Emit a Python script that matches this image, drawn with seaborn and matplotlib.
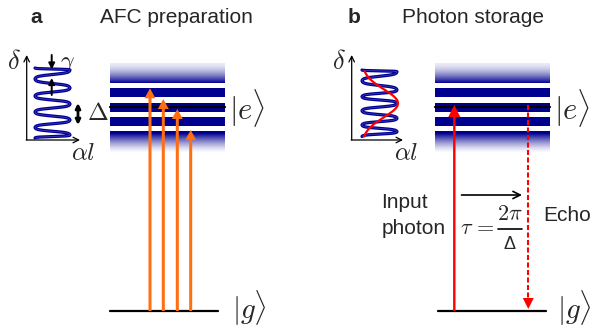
import numpy as np
import pandas as pd
import matplotlib
matplotlib.use("Agg")
import matplotlib.pyplot as plt
from matplotlib.colors import LinearSegmentedColormap
import seaborn as sns

sns.set_theme(style="white")
plt.rcParams["font.family"] = ["Liberation Sans", "DejaVu Sans"]
plt.rcParams["mathtext.fontset"] = "cm"

# ---------------- diagram content ----------------
panel_letters = ["a", "b"]
panel_titles = ["AFC preparation", "Photon storage"]
side_labels = ["Input\nphoton", "Echo"]

# excited-state manifold: solid stripes and faded edges (rows, px)
stripes = [(88.3, 96.7), (102.7, 111.7), (116.7, 125.7)]
fade_top = (63.0, 83.0)
fade_bottom = (131.7, 153.0)
level_e = 107.3
level_g = 311.0

# horizontal extent of each manifold and ground line
block_x = [(110.0, 225.0), (435.0, 550.0)]
ground_x = [(110.0, 218.0), (438.0, 546.0)]

# preparation pulses (panel a): column and arrival row
prep_x = [150.0, 163.3, 177.3, 190.7]
prep_tip = [88.3, 99.0, 109.0, 130.0]

# storage (panel b): absorbed photon and echo columns
input_x = 454.3
echo_x = 528.3

# absorption comb teeth (delta axis rows) and comb span in alpha*l
comb_peaks_a = [70.0, 88.0, 104.0, 120.0, 135.0]
comb_peaks_b = [71.7, 90.0, 103.3, 118.3, 131.7]
comb_span_a = (35.0, 70.0)
comb_span_b = (362.0, 397.0)
comb_ends_a = (68.0, 138.0)
comb_ends_b = (70.0, 136.5)

# photon spectrum overlaid on the comb (panel b)
photon_center = 103.3
photon_sigma = 14.0
photon_height = 36.0

NAVY = "#000090"
ORANGE = "#FF6E10"
RED = "#FF0000"


def comb_curve(peaks, span, ends, n=40, sharp=5.0):
    """Rounded comb teeth: flat sweeps across, tight turns at both sides."""
    left, right = span
    turns = [(left, ends[0])]
    for i, p in enumerate(peaks):
        turns.append((right, p))
        if i < len(peaks) - 1:
            turns.append((left, 0.5 * (p + peaks[i + 1])))
    turns.append((left, ends[1]))
    xs, ys = [], []
    norm = np.tanh(sharp / 2)
    for (xa, ya), (xb, yb) in zip(turns[:-1], turns[1:]):
        u = np.linspace(0, 1, n)
        s = 0.5 + 0.5 * np.tanh(sharp * (u - 0.5)) / norm
        xs.extend(xa + (xb - xa) * s)
        ys.extend(ya + (yb - ya) * u)
    return pd.DataFrame({"al": xs, "delta": ys})


fig = plt.figure(figsize=(5.93, 3.28), dpi=100)
ax = fig.add_axes([0, 0, 1, 1])

# ---- titles ----
ax.text(36, 22.7, panel_letters[0], fontsize=15, fontweight="bold",
        ha="center", va="baseline")
ax.text(100, 22.7, panel_titles[0], fontsize=15, ha="left", va="baseline")
ax.text(354, 22.7, panel_letters[1], fontsize=15, fontweight="bold",
        ha="center", va="baseline")
ax.text(401.5, 22.7, panel_titles[1], fontsize=15, ha="left", va="baseline")

# ---- excited-state manifolds ----
fade = LinearSegmentedColormap.from_list("fade", ["white", NAVY])
t = np.linspace(0, 1, 128)[:, None]
for x0, x1 in block_x:
    ax.imshow(0.08 + 0.92 * t ** 1.6, cmap=fade, vmin=0, vmax=1,
              extent=(x0, x1, fade_top[1], fade_top[0]), origin="upper",
              aspect="auto", interpolation="bilinear", zorder=1)
    ax.imshow(np.clip(1.15 * (1 - t) ** 1.4, 0, 1), cmap=fade, vmin=0, vmax=1,
              extent=(x0, x1, fade_bottom[1], fade_bottom[0]), origin="upper",
              aspect="auto", interpolation="bilinear", zorder=1)
    for y0, y1 in stripes:
        ax.fill_between([x0, x1], y0, y1, color=NAVY, lw=0, zorder=1)
    ax.plot([x0, x1], [level_e, level_e], color="black", lw=1.6, zorder=2)

# ground levels
for x0, x1 in ground_x:
    ax.plot([x0, x1], [level_g, level_g], color="black", lw=1.6, zorder=2)

# state labels
ax.text(229, 108, r"$|e\rangle$", fontsize=22, ha="left", va="center")
ax.text(554, 108, r"$|e\rangle$", fontsize=22, ha="left", va="center")
ax.text(232, 308, r"$|g\rangle$", fontsize=21, ha="left", va="center")
ax.text(557, 308, r"$|g\rangle$", fontsize=21, ha="left", va="center")

# ---- panel a: preparation pulses ----
for x, tip in zip(prep_x, prep_tip):
    ax.arrow(x, level_g, 0, tip - level_g, width=3.0, head_width=11,
             head_length=10, length_includes_head=True, fc=ORANGE, ec="none",
             zorder=3)

# ---- panel b: input photon and echo ----
ax.arrow(input_x, level_g, 0, 105 - level_g, width=2.4, head_width=12,
         head_length=12, length_includes_head=True, fc=RED, ec="none", zorder=3)
ax.plot([echo_x, echo_x], [105, 299], color=RED, lw=1.5,
        linestyle=(0, (2.4, 1.2)), zorder=3)
ax.arrow(echo_x, 298, 0, 11, width=0.01, head_width=11, head_length=11,
         length_includes_head=True, fc=RED, ec="none", zorder=3)

ax.text(381.5, 208.3, "Input", fontsize=15, ha="left", va="baseline")
ax.text(381.5, 234, "photon", fontsize=15, ha="left", va="baseline")
ax.text(543.3, 220.7, side_labels[1], fontsize=15, ha="left", va="baseline")

# storage time
ax.annotate("", xy=(522, 195), xytext=(461.5, 195),
            arrowprops=dict(arrowstyle="->", lw=1.2, color="black",
                            mutation_scale=13, shrinkA=0, shrinkB=0))
ax.text(460.5, 234, r"$\tau\,=$", fontsize=16, ha="left", va="baseline")
ax.text(510, 220, r"$2\pi$", fontsize=16, ha="center", va="baseline")
ax.plot([498, 522], [228.5, 228.5], color="black", lw=1.2)
ax.text(510, 249.3, "\u0394", fontsize=13, ha="center", va="baseline")

# ---- absorption-profile insets ----
for ox, ox_end, dx, ax_lab in [(26.7, 80.0, 13.5, 83.0),
                               (351.7, 403.0, 338.5, 406.0)]:
    ax.annotate("", xy=(ox, 55), xytext=(ox, 140),
                arrowprops=dict(arrowstyle="->", lw=0.9, color="black",
                                mutation_scale=10, shrinkA=0, shrinkB=0))
    ax.annotate("", xy=(ox_end, 140), xytext=(ox - 0.5, 140),
                arrowprops=dict(arrowstyle="->", lw=0.9, color="black",
                                mutation_scale=10, shrinkA=0, shrinkB=0))
    ax.text(dx, 62, r"$\delta$", fontsize=19, ha="center", va="center")
    ax.text(ax_lab, 153.5, r"$\alpha l$", fontsize=18, ha="center",
            va="center")

for peaks, span, ends in [(comb_peaks_a, comb_span_a, comb_ends_a),
                          (comb_peaks_b, comb_span_b, comb_ends_b)]:
    comb = comb_curve(peaks, span, ends)
    sns.lineplot(data=comb, x="al", y="delta", sort=False, estimator=None,
                 orient="y", color=NAVY, lw=2.3, ax=ax, legend=False,
                 zorder=4)
    sns.lineplot(data=comb, x="al", y="delta", sort=False, estimator=None,
                 orient="y", color="#3535b8", lw=0.6, ax=ax, legend=False,
                 zorder=4)

rows = np.linspace(comb_ends_b[0] + 1.5, comb_ends_b[1], 200)
photon = pd.DataFrame({
    "delta": rows,
    "al": comb_span_b[0] + photon_height
    * np.exp(-(rows - photon_center) ** 2 / (2 * photon_sigma ** 2)),
})
sns.lineplot(data=photon, x="al", y="delta", sort=False, estimator=None,
             orient="y", color=RED, lw=1.6, ax=ax, legend=False, zorder=5)

# linewidth and tooth spacing markers (panel a)
ax.annotate("", xy=(51.7, 69.5), xytext=(51.7, 55),
            arrowprops=dict(arrowstyle="-|>", lw=1.4, color="black",
                            mutation_scale=9, shrinkA=0, shrinkB=0))
ax.annotate("", xy=(51.7, 78), xytext=(51.7, 95),
            arrowprops=dict(arrowstyle="-|>", lw=1.4, color="black",
                            mutation_scale=9, shrinkA=0, shrinkB=0), zorder=6)
ax.text(67.5, 64, r"$\gamma$", fontsize=17, ha="center", va="center")
ax.annotate("", xy=(78, 103), xytext=(78, 125),
            arrowprops=dict(arrowstyle="<|-|>", lw=2.0, color="black",
                            mutation_scale=7, shrinkA=0, shrinkB=0))
ax.text(98, 113, r"$\Delta$", fontsize=18, ha="center", va="center")

ax.set_xlim(0, 593)
ax.set_ylim(328, 0)
ax.set_xlabel("")
ax.set_ylabel("")
ax.axis("off")

fig.savefig("out.png", dpi=100)
